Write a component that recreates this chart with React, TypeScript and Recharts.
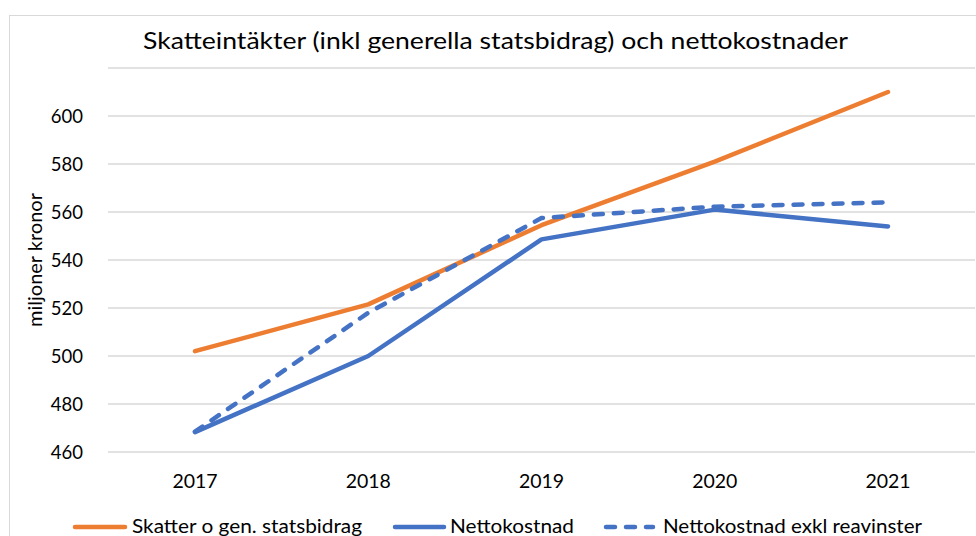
import React from 'react';
import { LineChart, Line, XAxis, YAxis, CartesianGrid, Legend } from 'recharts';

const years = ['2017', '2018', '2019', '2020', '2021'];
const skatter = [502, 521.5, 554.5, 581, 610];
const netto = [468.3, 500, 548.6, 561, 554];
const nettoExkl = [468.5, 518, 557.5, 562.2, 564];
const yTicks = [460, 480, 500, 520, 540, 560, 580, 600];

const seriesNames = ['Skatter o gen. statsbidrag', 'Nettokostnad', 'Nettokostnad exkl reavinster'];
const ORANGE = '#ED7D31';
const BLUE = '#4472C4';
const FONT = 'Lato, "Open Sans", sans-serif';

const data = years.map((y, i) => ({
  year: y,
  skatter: skatter[i],
  netto: netto[i],
  nettoExkl: nettoExkl[i],
}));

const LegendContent = () => (
  <svg width={976} height={26} style={{ display: 'block', overflow: 'visible' }}>
    <line x1={75} x2={125} y1={17} y2={17} stroke={ORANGE} strokeWidth={4.5} strokeLinecap="round" />
    <text x={132} y={23} fontFamily={FONT} fontSize={18.5} fill="#000" textLength={230} lengthAdjust="spacingAndGlyphs">{seriesNames[0]}</text>
    <line x1={395} x2={444} y1={17} y2={17} stroke={BLUE} strokeWidth={4.5} strokeLinecap="round" />
    <text x={450} y={23} fontFamily={FONT} fontSize={18.5} fill="#000" textLength={124} lengthAdjust="spacingAndGlyphs">{seriesNames[1]}</text>
    <line x1={606} x2={653} y1={17} y2={17} stroke={BLUE} strokeWidth={4.5} strokeLinecap="round" strokeDasharray="9 11" />
    <text x={663} y={23} fontFamily={FONT} fontSize={18.5} fill="#000" textLength={259} lengthAdjust="spacingAndGlyphs">{seriesNames[2]}</text>
  </svg>
);

export default function App() {
  return (
    <div style={{ position: 'absolute', left: 0, top: 0, width: 976, height: 536, overflow: 'hidden', background: '#fff' }}>
      <div style={{ position: 'absolute', left: 9, top: 15, width: 1000, height: 600, border: '1px solid #d9d9d9', boxSizing: 'border-box' }} />
      <svg width={976} height={60} style={{ position: 'absolute', left: 0, top: 0 }}>
        <text x={495.5} y={49} textAnchor="middle" fontFamily={FONT} fontSize={24} fill="#000" textLength={705} lengthAdjust="spacingAndGlyphs">
          Skatteintäkter (inkl generella statsbidrag) och nettokostnader
        </text>
      </svg>
      <div style={{ position: 'absolute', left: 0, top: 0 }}>
        <LineChart width={976} height={536} data={data} margin={{ top: 68, right: 1, bottom: 54, left: 20 }}>
          <CartesianGrid vertical={false} stroke="#d9d9d9" strokeWidth={1.3} />
          <XAxis
            dataKey="year"
            padding={{ left: 87, right: 87 }}
            axisLine={false}
            tickLine={false}
            tickSize={0}
            tickMargin={22}
            tick={{ fontFamily: FONT, fontSize: 19.5, fill: '#000' }}
          />
          <YAxis
            domain={[460, 620]}
            ticks={yTicks}
            interval={0}
            width={88}
            axisLine={false}
            tickLine={false}
            tickSize={0}
            tickMargin={25}
            tick={{ fontFamily: FONT, fontSize: 18.5, fill: '#000' }}
            label={{ value: 'miljoner kronor', angle: -90, position: 'insideLeft', offset: 15, style: { fontFamily: FONT, fontSize: 20, fill: '#000', textAnchor: 'middle' } }}
          />
          <Legend
            verticalAlign="bottom"
            content={LegendContent}
            wrapperStyle={{ position: 'absolute', left: 0, top: 510, width: 976, height: 0, overflow: 'visible' }}
          />
          <Line type="linear" dataKey="skatter" name={seriesNames[0]} stroke={ORANGE} strokeWidth={4.5} dot={false} strokeLinecap="round" strokeLinejoin="round" isAnimationActive={false} />
          <Line type="linear" dataKey="netto" name={seriesNames[1]} stroke={BLUE} strokeWidth={4.5} dot={false} strokeLinecap="round" strokeLinejoin="round" isAnimationActive={false} />
          <Line type="linear" dataKey="nettoExkl" name={seriesNames[2]} stroke={BLUE} strokeWidth={4.5} dot={false} strokeDasharray="9 11" strokeLinecap="round" strokeLinejoin="round" isAnimationActive={false} />
        </LineChart>
      </div>
    </div>
  );
}
